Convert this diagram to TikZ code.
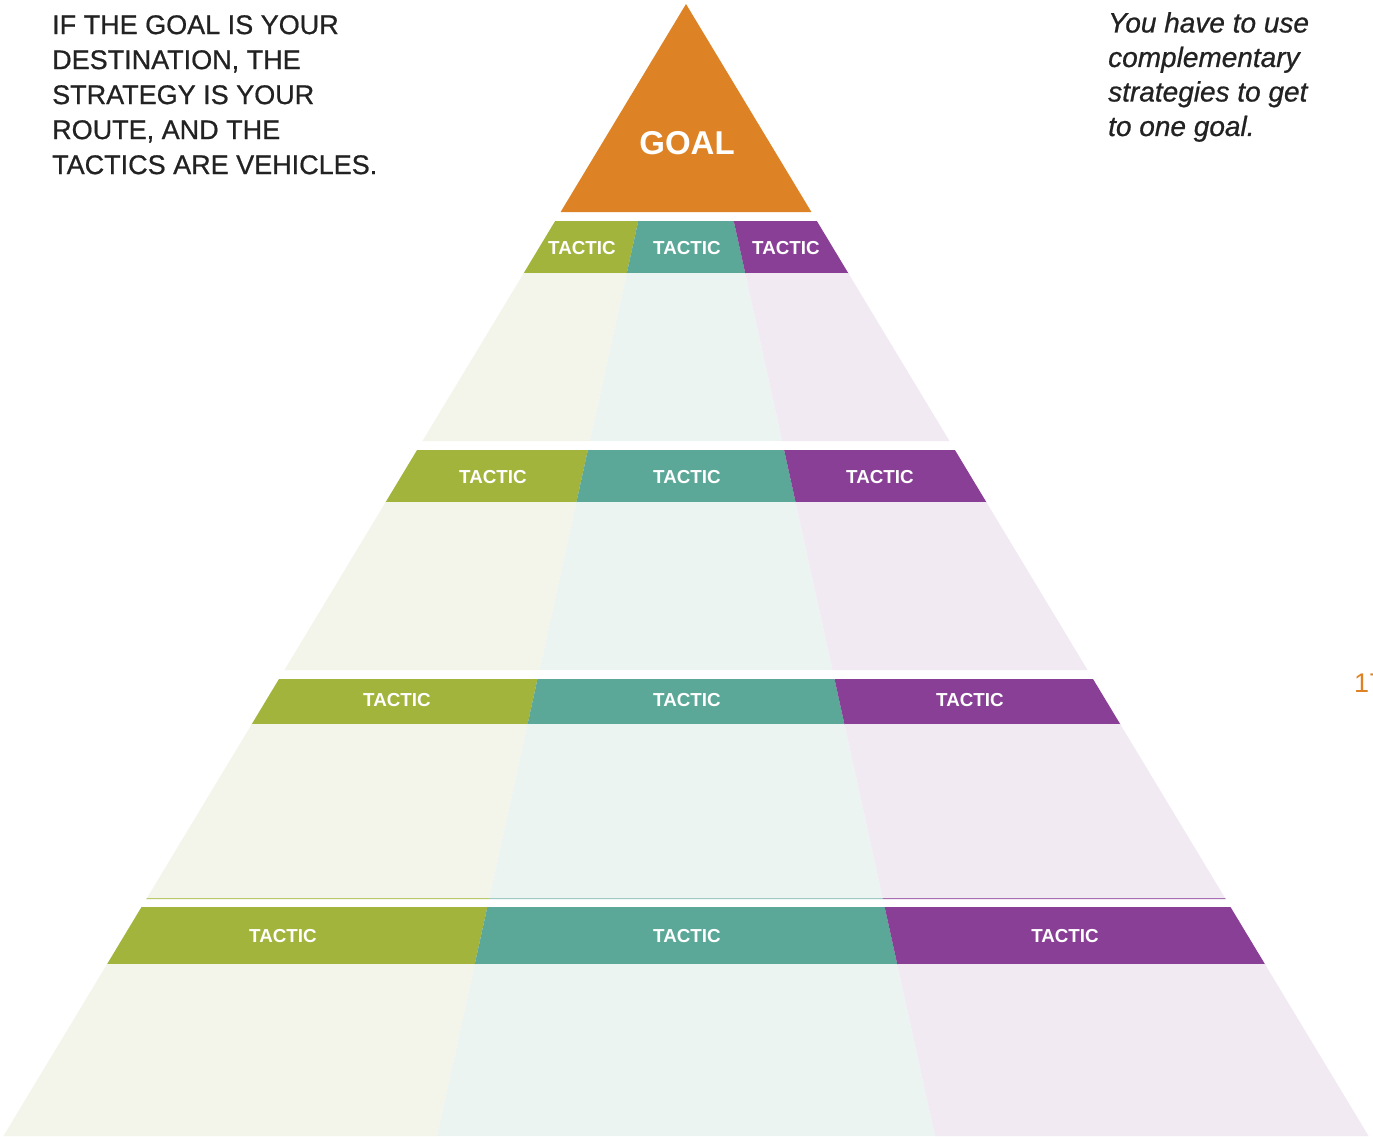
\documentclass[tikz,border=0pt]{standalone}
\usepackage{fontspec}
\setmainfont{Liberation Sans}
\newfontfamily\medsans{Liberation Sans}[FakeBold=0.7]
\definecolor{cGreen}{HTML}{A2B43C}
\definecolor{cTeal}{HTML}{5BA898}
\definecolor{cPurple}{HTML}{8A3F97}
\definecolor{cOrange}{HTML}{DD8326}
\definecolor{lGreen}{HTML}{F3F5EA}
\definecolor{lTeal}{HTML}{ECF4F2}
\definecolor{lPurple}{HTML}{F1EAF3}
\definecolor{cText}{HTML}{222222}
\newcommand\pyrband[5]{%
  \pgfmathsetmacro\ha{0.603*(#1-4)}%
  \pgfmathsetmacro\hb{0.603*(#2-4)}%
  \pgfmathsetmacro\da{0.22*(#1-4)}%
  \pgfmathsetmacro\db{0.22*(#2-4)}%
  \fill[#3] (686-\ha,#1) -- (686-\da,#1) -- (686-\db,#2) -- (686-\hb,#2) -- cycle;
  \fill[#4] (686-\da,#1) -- (686+\da,#1) -- (686+\db,#2) -- (686-\db,#2) -- cycle;
  \fill[#5] (686+\da,#1) -- (686+\ha,#1) -- (686+\hb,#2) -- (686+\db,#2) -- cycle;
}
\tikzset{
  tactic/.style={text=white, font=\fontsize{18.8}{20}\selectfont\bfseries, inner sep=0pt},
}
\begin{document}
\begin{tikzpicture}[x=1pt,y=-1pt]
\useasboundingbox (0,0) rectangle (1373,1136);
% goal
\fill[cOrange] (686,4) -- (811.4,212) -- (560.6,212) -- cycle;
\node[text=white, font=\fontsize{33}{36}\selectfont\bfseries, inner sep=0pt] (goal) at (687,143) {GOAL};
% bars and light bands
\pyrband{221}{273.5}{cGreen}{cTeal}{cPurple}
\pyrband{273}{441}{lGreen}{lTeal}{lPurple}
\pyrband{450}{502.5}{cGreen}{cTeal}{cPurple}
\pyrband{502}{670}{lGreen}{lTeal}{lPurple}
\pyrband{679}{724.5}{cGreen}{cTeal}{cPurple}
\pyrband{724}{899}{lGreen}{lTeal}{lPurple}
\pyrband{907}{964.5}{cGreen}{cTeal}{cPurple}
\pyrband{964}{1136}{lGreen}{lTeal}{lPurple}
% thin line under third band
\pyrband{898}{899.2}{cGreen!75}{cTeal!60}{cPurple!75}
% tactic labels
\node[tactic] (t11) at (582,248) {TACTIC};
\node[tactic] (t12) at (687,248) {TACTIC};
\node[tactic] (t13) at (786,248) {TACTIC};
\node[tactic] (t21) at (493,477) {TACTIC};
\node[tactic] (t22) at (687,477) {TACTIC};
\node[tactic] (t23) at (880,477) {TACTIC};
\node[tactic] (t31) at (397,700) {TACTIC};
\node[tactic] (t32) at (687,700) {TACTIC};
\node[tactic] (t33) at (970,700) {TACTIC};
\node[tactic] (t41) at (283,936) {TACTIC};
\node[tactic] (t42) at (687,936) {TACTIC};
\node[tactic] (t43) at (1065,936) {TACTIC};
% texts
\node[anchor=north west, inner sep=0pt, align=left, text=cText,
      font=\medsans\fontsize{27}{35}\selectfont] (lefttext) at (52,15)
  {IF THE GOAL IS YOUR\\DESTINATION, THE\\STRATEGY IS YOUR\\ROUTE, AND THE\\TACTICS ARE VEHICLES.};
\node[anchor=north west, inner sep=0pt, align=left, text=cText,
      font=\medsans\fontsize{28}{34.5}\selectfont\itshape] (righttext) at (1108,12)
  {You have to use\\complementary\\strategies to get\\to one goal.};
\node[anchor=base west, inner sep=0pt, text=cOrange, font=\fontsize{27}{30}\selectfont] (pagenum) at (1354,692) {17};
\end{tikzpicture}
\end{document}
